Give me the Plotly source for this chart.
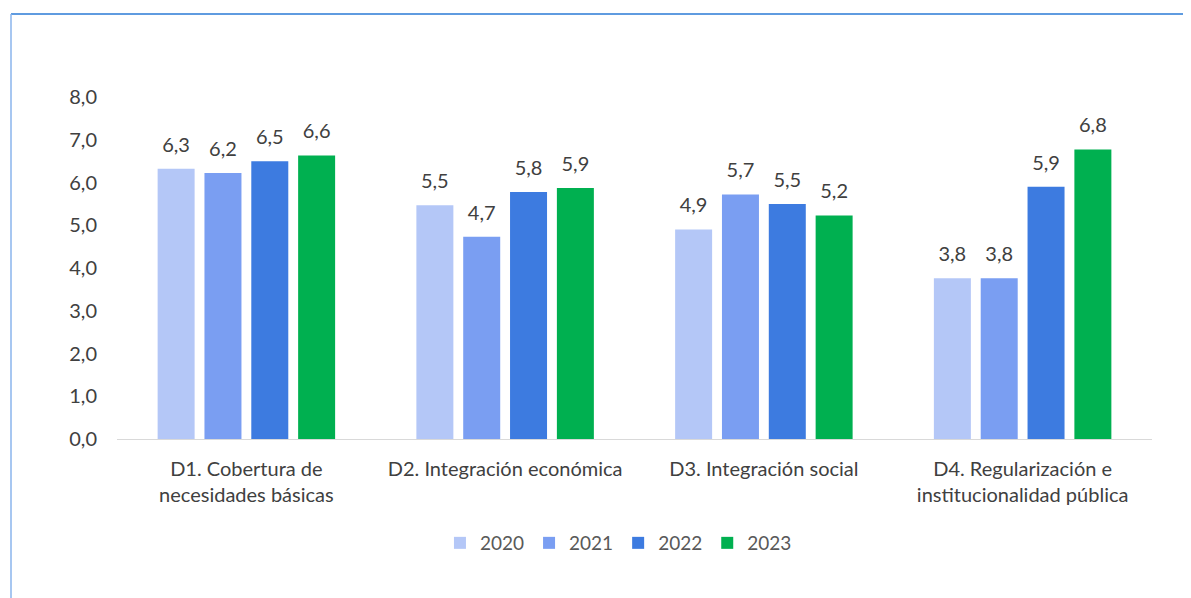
import plotly.graph_objects as go

categories = ["D1. Cobertura de<br>necesidades básicas", "D2. Integración económica",
              "D3. Integración social", "D4. Regularización e<br>institucionalidad pública"]
years = ["2020", "2021", "2022", "2023"]
v2020 = [6.32, 5.47, 4.90, 3.76]
v2021 = [6.22, 4.73, 5.72, 3.76]
v2022 = [6.50, 5.78, 5.50, 5.90]
v2023 = [6.63, 5.87, 5.23, 6.77]
series = [v2020, v2021, v2022, v2023]
colors = ["#b4c7f7", "#7a9ef2", "#3d7be0", "#00b050"]
ytick_vals = [0, 1, 2, 3, 4, 5, 6, 7, 8]
ytick_text = [f"{v:.1f}".replace(".", ",") for v in ytick_vals]

FONT = "Lato, 'Open Sans', sans-serif"
TXT = "#404040"

fig = go.Figure()
for yr, vals, col in zip(years, series, colors):
    fig.add_trace(go.Bar(
        name=yr, x=categories, y=vals, marker=dict(color=col, line=dict(width=0)),
        offsetgroup=yr, hoverinfo="skip",
    ))
for yr, vals in zip(years, series):
    fig.add_trace(go.Scatter(
        x=categories, y=vals, mode="markers+text", offsetgroup=yr,
        marker=dict(size=18, color="rgba(0,0,0,0)"),
        text=[f"{v:.1f}".replace(".", ",") for v in vals],
        textposition="top center", cliponaxis=False,
        textfont=dict(family=FONT, size=20, color=TXT),
        showlegend=False, hoverinfo="skip",
    ))

# page body has an 8px margin; figure coordinates are offset by it
W, H = 1183, 590
L, R, T, B = 109, 39, 89, 159
pw, ph = W - L - R, H - T - B

def px_x(x):
    return (x - L) / pw

def px_y(y):
    return (H - B - y) / ph

fig.update_layout(
    width=W, height=H, barmode="group", bargap=0.276, bargroupgap=0.21,
    scattermode="group", scattergap=0.276,
    paper_bgcolor="white", plot_bgcolor="white",
    margin=dict(l=L, r=R, t=T, b=B, autoexpand=False),
    font=dict(family=FONT, size=20, color=TXT),
    xaxis=dict(showline=True, linecolor="#d9d9d9", linewidth=1, ticks="",
               ticklabelstandoff=12,
               tickfont=dict(family=FONT, size=20, color=TXT), showgrid=False),
    yaxis=dict(range=[0, 8], tickvals=ytick_vals, ticktext=ytick_text, showgrid=False,
               zeroline=False, showline=False, ticks="", ticklabelstandoff=19,
               tickfont=dict(family=FONT, size=20, color=TXT)),
    legend=dict(orientation="h", x=0.4845, xanchor="center", y=px_y(535), yanchor="middle",
                font=dict(family=FONT, size=19, color="#595959"), traceorder="normal"),
    shapes=[
        dict(type="line", xref="paper", yref="paper", x0=px_x(3), x1=px_x(1183),
             y0=px_y(6), y1=px_y(6), line=dict(color="#2a7ad6", width=1.5)),
        dict(type="line", xref="paper", yref="paper", x0=px_x(3), x1=px_x(3),
             y0=px_y(6), y1=px_y(590), line=dict(color="#8ab4ec", width=1.5)),
    ],
)

fig.write_html("out.html")
